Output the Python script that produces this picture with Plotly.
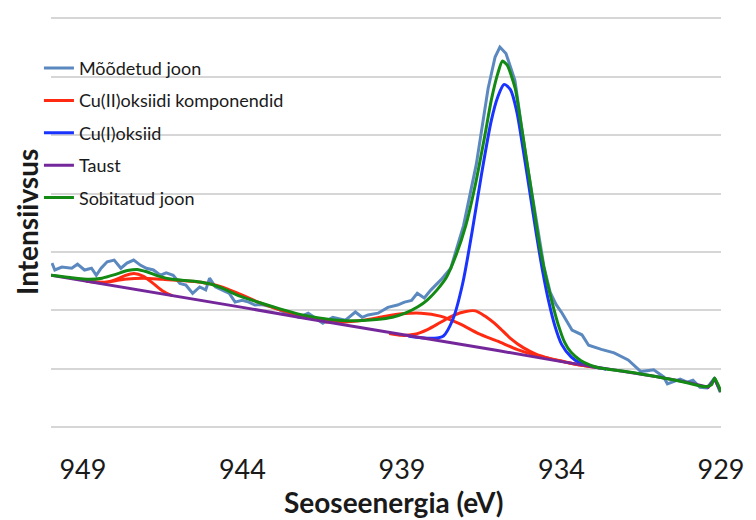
import plotly.graph_objects as go

# ---------------- data ----------------
# Measured line (Mõõdetud joon)
meas_x = [949.97, 949.88, 949.66, 949.35, 949.17, 948.95, 948.73, 948.58, 948.43, 948.24,
          948.02, 947.81, 947.62, 947.41, 947.19, 947.01, 946.79, 946.57, 946.39, 946.17,
          945.96, 945.77, 945.56, 945.34, 945.15, 945.03, 944.85, 944.63, 944.41, 944.23,
          944.01, 943.80, 943.61, 943.40, 943.02, 942.62, 942.22, 941.94, 941.48, 941.17,
          940.77, 940.46, 940.25, 940.06, 939.75, 939.44, 939.14, 938.92, 938.70, 938.52,
          938.30, 938.09, 937.78, 937.47, 937.07, 936.67, 936.30, 936.08, 935.93, 935.74,
          935.46, 935.12, 934.81, 934.55, 934.35, 934.17, 933.98, 933.67, 933.36, 933.15,
          932.75, 932.35, 931.91, 931.51, 931.11, 930.80, 930.68, 930.28, 930.06, 929.88,
          929.66, 929.44, 929.20, 929.03]
meas_y = [2.81, 2.69, 2.74, 2.72, 2.79, 2.69, 2.72, 2.60, 2.72, 2.83,
          2.86, 2.72, 2.81, 2.86, 2.77, 2.72, 2.69, 2.60, 2.64, 2.60,
          2.46, 2.43, 2.29, 2.40, 2.35, 2.55, 2.40, 2.35, 2.29, 2.14,
          2.17, 2.14, 2.09, 2.10, 2.05, 1.95, 1.88, 1.95, 1.78, 1.88,
          1.83, 1.97, 1.88, 1.92, 1.95, 2.05, 2.09, 2.14, 2.17, 2.29,
          2.21, 2.35, 2.52, 2.72, 3.45, 4.50, 5.80, 6.34, 6.51, 6.40,
          5.94, 4.65, 3.65, 2.75, 2.30, 2.10, 1.95, 1.66, 1.58, 1.40,
          1.33, 1.27, 1.15, 0.95, 0.98, 0.86, 0.74, 0.82, 0.77, 0.80,
          0.68, 0.67, 0.84, 0.60]

# Cu(II) oxide components (four red curves)
red1_x = [948.9, 948.4, 948.0, 947.7, 947.4, 947.1, 946.8, 946.5, 946.2]
red1_y = [2.50, 2.47, 2.52, 2.59, 2.63, 2.58, 2.46, 2.33, 2.25]
red2_x = [948.9, 948.3, 947.7, 947.1, 946.5, 945.9, 945.3, 944.7, 944.1, 943.5,
          942.9, 942.3, 941.7, 941.1]
red2_y = [2.50, 2.48, 2.53, 2.55, 2.53, 2.51, 2.48, 2.41, 2.28, 2.14,
          2.02, 1.93, 1.86, 1.79]
red3_x = [941.4, 940.8, 940.2, 939.6, 939.0, 938.4, 937.8, 937.2, 936.6, 936.0,
          935.4, 934.8, 934.2, 933.6, 933.0]
red3_y = [1.80, 1.80, 1.83, 1.89, 1.94, 1.95, 1.90, 1.77, 1.60, 1.47,
          1.33, 1.23, 1.15, 1.08, 1.03]
red4_x = [939.4, 939.0, 938.6, 938.2, 937.8, 937.4, 937.0, 936.7, 936.4, 936.0,
          935.6, 935.2, 934.8, 934.4, 934.0, 933.4, 932.8]
red4_y = [1.60, 1.57, 1.59, 1.67, 1.79, 1.91, 1.98, 1.99, 1.90, 1.73,
          1.52, 1.36, 1.25, 1.18, 1.13, 1.06, 1.01]

# Cu(I) oxide
cu1_x = [938.8, 938.4, 938.0, 937.7, 937.4, 937.1, 936.8, 936.5, 936.2, 936.0,
         935.8, 935.6, 935.4, 935.2, 935.0, 934.8, 934.6, 934.4, 934.2, 934.0,
         933.7, 933.4, 933.0, 932.6]
cu1_y = [1.56, 1.53, 1.52, 1.56, 1.85, 2.45, 3.35, 4.35, 5.25, 5.65,
         5.87, 5.78, 5.40, 4.75, 4.05, 3.35, 2.70, 2.15, 1.72, 1.42,
         1.20, 1.09, 1.03, 0.99]

# Background (Taust)
bg_x = [950.0, 948.0, 946.0, 944.0, 942.0, 940.0, 938.0, 936.0, 934.0, 932.0,
        931.0, 930.0, 929.6, 929.4, 929.2, 929.0]
bg_y = [2.60, 2.42, 2.23, 2.05, 1.86, 1.68, 1.49, 1.31, 1.12, 0.95,
        0.86, 0.76, 0.70, 0.68, 0.82, 0.60]

# Fitted line (Sobitatud joon)
fit_x = [950.0, 949.4, 948.8, 948.4, 948.0, 947.6, 947.3, 947.0, 946.6, 946.2,
         945.8, 945.4, 945.0, 944.6, 944.2, 943.8, 943.4, 942.8, 942.2, 941.6,
         941.0, 940.4, 939.8, 939.3, 938.9, 938.5, 938.2, 937.9, 937.6, 937.3,
         937.0, 936.7, 936.4, 936.2, 936.0, 935.85, 935.7, 935.45, 935.3, 935.1,
         934.9, 934.7, 934.5, 934.3, 934.1, 933.9, 933.7, 933.4, 933.1, 932.8,
         932.0, 931.0, 930.0, 929.5, 929.3, 929.2, 929.0]
fit_y = [2.60, 2.56, 2.53, 2.55, 2.61, 2.68, 2.70, 2.66, 2.58, 2.53,
         2.51, 2.49, 2.45, 2.37, 2.27, 2.19, 2.12, 2.02, 1.93, 1.87,
         1.83, 1.82, 1.84, 1.88, 1.95, 2.06, 2.18, 2.35, 2.57, 2.95,
         3.45, 4.15, 5.00, 5.60, 6.05, 6.27, 6.20, 5.80, 5.30, 4.60,
         3.88, 3.15, 2.60, 2.15, 1.75, 1.45, 1.28, 1.14, 1.06, 1.01,
         0.95, 0.86, 0.75, 0.69, 0.72, 0.84, 0.60]

x_ticks = [949, 944, 939, 934, 929]

names = ["Mõõdetud joon", "Cu(II)oksiidi komponendid", "Cu(I)oksiid", "Taust", "Sobitatud joon"]
c_meas, c_red, c_blue, c_bg, c_fit = "#5B89BF", "#FF2A12", "#1A33FF", "#74279A", "#138A13"

FONT = "Lato"
fig = go.Figure()
fig.add_trace(go.Scatter(x=meas_x, y=meas_y, mode="lines", name=names[0], legendgroup="a",
                         line=dict(color=c_meas, width=3)))
for i, (rx, ry) in enumerate([(red1_x, red1_y), (red2_x, red2_y), (red3_x, red3_y), (red4_x, red4_y)]):
    fig.add_trace(go.Scatter(x=rx, y=ry, mode="lines", name=names[1], legendgroup="b",
                             showlegend=(i == 0),
                             line=dict(color=c_red, width=3, shape="spline", smoothing=0.8)))
fig.add_trace(go.Scatter(x=cu1_x, y=cu1_y, mode="lines", name=names[2], legendgroup="c",
                         line=dict(color=c_blue, width=3, shape="spline", smoothing=0.8)))
fig.add_trace(go.Scatter(x=bg_x, y=bg_y, mode="lines", name=names[3], legendgroup="d",
                         line=dict(color=c_bg, width=3)))
fig.add_trace(go.Scatter(x=fit_x, y=fit_y, mode="lines", name=names[4], legendgroup="e",
                         line=dict(color=c_fit, width=3, shape="spline", smoothing=0.6)))

fig.update_layout(
    width=756, height=520,
    margin=dict(l=51, r=25, t=17, b=93),
    paper_bgcolor="white", plot_bgcolor="white",
    font=dict(family=FONT, color="#1a1a1a"),
    showlegend=True,
    legend=dict(x=-0.018, y=0.92, xanchor="left", yanchor="top",
                bgcolor="rgba(0,0,0,0)", font=dict(size=18, family=FONT, color="#1a1a1a"),
                tracegroupgap=6, traceorder="grouped"),
    xaxis=dict(range=[950, 929], tickvals=x_ticks, ticktext=[str(v) for v in x_ticks],
               showgrid=False, zeroline=False, showline=False, ticks="",
               tickfont=dict(size=27, family=FONT, color="#1a1a1a"), ticklabelstandoff=24),
    yaxis=dict(range=[0, 7.025], dtick=1, tick0=0, showgrid=True, gridcolor="#D6D6D6", gridwidth=1.5,
               zeroline=True, zerolinecolor="#D6D6D6", zerolinewidth=1.5,
               showticklabels=False, ticks="", showline=False),
    annotations=[
        dict(text="<b>Seoseenergia (eV)</b>", xref="paper", yref="paper", x=0.512, y=-0.182,
             xanchor="center", yanchor="middle", showarrow=False,
             font=dict(size=28, family=FONT, color="#1a1a1a")),
        dict(text="<b>Intensiivsus</b>", xref="paper", yref="paper", x=-0.036, y=0.50,
             xanchor="center", yanchor="middle", showarrow=False, textangle=-90,
             font=dict(size=28, family=FONT, color="#1a1a1a")),
    ],
)

fig.write_html("out.html")
